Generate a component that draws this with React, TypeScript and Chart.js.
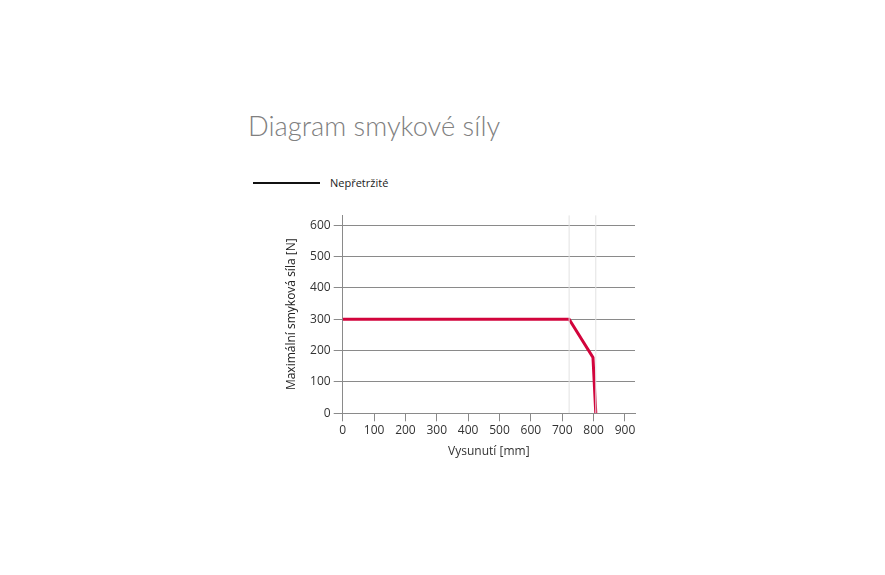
import { useEffect, useRef } from "react";
import { Chart, registerables } from "chart.js";

Chart.register(...registerables);

const titleText = "Diagram smykové síly";
const seriesName = "Nepřetržité";
const xTitle = "Vysunutí [mm]";
const yTitle = "Maximální smyková síla [N]";

const extension = [0, 722, 798, 807];
const shearForce = [300, 300, 178, 0];
const markerX = [722, 807];

const xTicks = [0, 100, 200, 300, 400, 500, 600, 700, 800, 900];
const yTicks = [0, 100, 200, 300, 400, 500, 600];

const xMax = 932;
const yMax = 632;

const font = "'Open Sans', 'Noto Sans', sans-serif";

const App = () => {
  const chartRef: any = useRef(null);

  useEffect(() => {
    const ctx = chartRef.current.getContext("2d");

    const markers = markerX.map((x) => ({
      data: [
        { x, y: 0 },
        { x, y: yMax },
      ],
      borderColor: "#e2e2e2",
      borderWidth: 1,
      pointRadius: 0,
      fill: false,
    }));

    const theChart = new Chart(ctx, {
      type: "line",
      data: {
        datasets: [
          ...markers,
          {
            label: seriesName,
            data: extension.map((x, i) => ({ x, y: shearForce[i] })),
            borderColor: "#d2043c",
            borderWidth: 3,
            pointRadius: 0,
            tension: 0,
            fill: false,
          },
        ],
      },
      options: {
        animation: false,
        responsive: false,
        maintainAspectRatio: false,
        layout: { padding: { top: 10, right: 25, left: 0, bottom: 0 } },
        plugins: {
          legend: { display: false },
          tooltip: { enabled: false },
        },
        scales: {
          x: {
            type: "linear",
            min: 0,
            max: xMax,
            afterBuildTicks: (axis: any) => {
              axis.ticks = xTicks.map((v) => ({ value: v }));
            },
            afterFit: (axis: any) => {
              axis.height = 71.7;
            },
            ticks: {
              autoSkip: false,
              maxRotation: 0,
              color: "#333",
              padding: 2,
              font: { family: font, size: 12 },
            },
            grid: {
              drawOnChartArea: false,
              drawTicks: true,
              tickLength: 8,
              color: "#8a8a8a",
            },
            border: { color: "#8a8a8a" },
            title: {
              display: true,
              text: xTitle,
              color: "#333",
              font: { family: font, size: 12 },
              padding: { top: 0, bottom: 26 },
            },
          },
          y: {
            type: "linear",
            min: 0,
            max: yMax,
            afterBuildTicks: (axis: any) => {
              axis.ticks = yTicks.map((v) => ({ value: v }));
            },
            afterFit: (axis: any) => {
              axis.width = 82.7;
            },
            ticks: {
              autoSkip: false,
              color: "#333",
              padding: 3,
              font: { family: font, size: 12 },
            },
            grid: {
              color: "#8a8a8a",
              tickLength: 9,
            },
            border: { color: "#8a8a8a" },
            title: {
              display: true,
              text: yTitle,
              color: "#222",
              font: { family: font, size: 12 },
              padding: { top: 24, bottom: 0 },
            },
          },
        },
      },
    });

    return () => {
      theChart.destroy();
    };
  }, []);

  return (
    <div
      style={{
        position: "fixed",
        left: 0,
        top: 0,
        width: 885,
        height: 575,
        background: "#fff",
      }}
    >
      <div
        style={{
          position: "absolute",
          left: 248,
          top: 109,
          fontFamily: "'Lato Light', 'Open Sans', 'Noto Sans', sans-serif",
          fontWeight: 300,
          fontSize: 27.3,
          color: "#808080",
          whiteSpace: "nowrap",
        }}
      >
        {titleText}
      </div>
      <div
        style={{
          position: "absolute",
          left: 253,
          top: 182,
          width: 67,
          height: 2,
          background: "#111",
        }}
      />
      <div
        style={{
          position: "absolute",
          left: 330,
          top: 175,
          fontFamily: font,
          fontSize: 11,
          color: "#222",
          whiteSpace: "nowrap",
        }}
      >
        {seriesName}
      </div>
      <canvas
        ref={chartRef}
        width={400}
        height={280}
        style={{ position: "absolute", left: 260, top: 205, width: 400, height: 280 }}
      />
    </div>
  );
};

export default App;
